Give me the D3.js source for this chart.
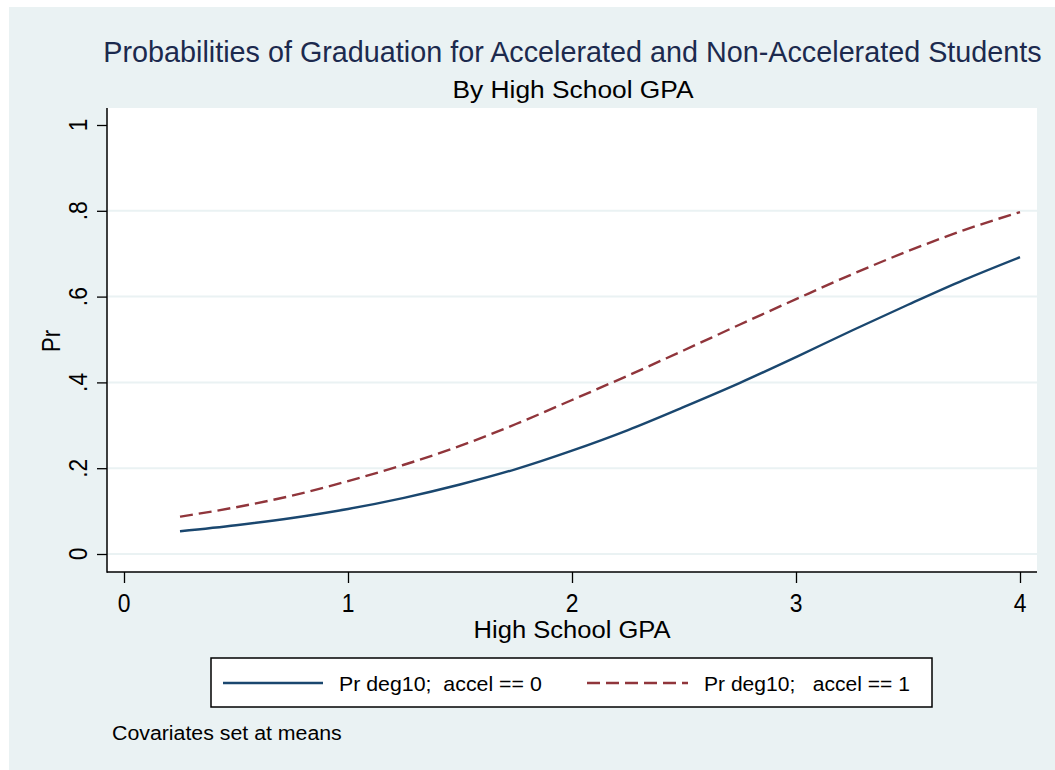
<!DOCTYPE html>
<html>
<head>
<meta charset="utf-8">
<script src="https://cdn.jsdelivr.net/npm/d3@7"></script>
<style>
  html, body { margin: 0; padding: 0; background: #ffffff; }
  svg { display: block; font-family: "Liberation Sans", Arial, sans-serif; }
</style>
</head>
<body>
<svg id="chart" width="1055" height="770"></svg>
<script>
// ---- data ----
const gpa = [0.25, 0.5, 0.75, 1, 1.25, 1.5, 1.75, 2, 2.25, 2.5, 2.75, 3, 3.25, 3.5, 3.75, 4];
const prAccel0 = [0.053, 0.067, 0.084, 0.105, 0.131, 0.162, 0.198, 0.241, 0.289, 0.343, 0.399, 0.459, 0.521, 0.581, 0.639, 0.692];
const prAccel1 = [0.087, 0.109, 0.136, 0.170, 0.208, 0.252, 0.303, 0.359, 0.416, 0.475, 0.535, 0.594, 0.652, 0.706, 0.755, 0.797];
const xTicks = [0, 1, 2, 3, 4];
const yTicks = [0, 0.2, 0.4, 0.6, 0.8, 1];
const yTickLabels = ["0", ".2", ".4", ".6", ".8", "1"];
const gridValues = [0, 0.2, 0.4, 0.6, 0.8];
const seriesNames = ["Pr deg10;  accel == 0", "Pr deg10;   accel == 1"];
const titleText = "Probabilities of Graduation for Accelerated and Non-Accelerated Students";
const subtitleText = "By High School GPA";
const xTitle = "High School GPA";
const yTitle = "Pr";
const noteText = "Covariates set at means";

const svg = d3.select("#chart");
const W = 1055, H = 770;

// outer background
svg.append("rect").attr("x", 9).attr("y", 7).attr("width", W - 9).attr("height", H - 7).attr("fill", "#eaf2f3");

// plot region
const plot = { left: 107, top: 108, right: 1037, bottom: 572 };
svg.append("rect").attr("x", plot.left).attr("y", plot.top)
  .attr("width", plot.right - plot.left).attr("height", plot.bottom - plot.top).attr("fill", "#ffffff");

const x = d3.scaleLinear().domain([0, 4]).range([124, 1020]);
const y = d3.scaleLinear().domain([0, 1]).range([554, 125]);

// gridlines
svg.append("g").selectAll("line").data(gridValues).join("line")
  .attr("x1", plot.left + 1).attr("x2", plot.right)
  .attr("y1", d => y(d)).attr("y2", d => y(d))
  .attr("stroke", "#eaf2f3").attr("stroke-width", 2);

// text compressed horizontally to a target width (Stata renders text narrower than Arial)
function fixedText(parent, opts) {
  const g = parent.append("g");
  const t = g.append("text")
    .attr("x", 0).attr("y", 0)
    .attr("font-size", opts.size).attr("fill", opts.fill || "#000")
    .attr("text-anchor", opts.anchor || "start")
    .attr("xml:space", "preserve").style("white-space", "pre")
    .text(opts.text);
  let s = opts.scale || 1;
  if (opts.width) {
    const w = t.node().getComputedTextLength();
    if (w > 0) s = opts.width / w;
  }
  const rot = opts.rotate ? ` rotate(${opts.rotate})` : "";
  g.attr("transform", `translate(${opts.x},${opts.y})${rot} scale(${s.toFixed(4)},1)`);
  return t;
}

// y axis (ticks by d3, labels drawn rotated)
const yAxis = d3.axisLeft(y).tickValues(yTicks).tickSize(10).tickFormat("");
const gy = svg.append("g").attr("transform", `translate(${plot.left},0)`).call(yAxis);
gy.select(".domain").remove();
gy.selectAll(".tick line").attr("stroke", "#000").attr("stroke-width", 1.3);
gy.selectAll(".tick text").remove();
yTicks.forEach((v, i) => {
  fixedText(svg, { x: 87, y: y(v), size: 26, anchor: "middle", text: yTickLabels[i], rotate: -90, scale: 0.88 });
});

// x axis
const xAxis = d3.axisBottom(x).tickValues(xTicks).tickSize(11).tickFormat("");
const gx = svg.append("g").attr("transform", `translate(0,${plot.bottom})`).call(xAxis);
gx.select(".domain").remove();
gx.selectAll(".tick line").attr("stroke", "#000").attr("stroke-width", 1.3);
gx.selectAll(".tick text").remove();
xTicks.forEach(v => {
  fixedText(svg, { x: x(v), y: 612, size: 26, anchor: "middle", text: d3.format("d")(v), scale: 0.88 });
});

// axis lines
svg.append("line").attr("x1", plot.left).attr("x2", plot.left).attr("y1", plot.top).attr("y2", plot.bottom + 0.7)
  .attr("stroke", "#000").attr("stroke-width", 1.5);
svg.append("line").attr("x1", plot.left).attr("x2", plot.right).attr("y1", plot.bottom).attr("y2", plot.bottom)
  .attr("stroke", "#000").attr("stroke-width", 1.5);

// lines
const line = d3.line().x(d => x(d[0])).y(d => y(d[1])).curve(d3.curveMonotoneX);
const colors = ["#1a476f", "#90353b"];
const dashes = [null, "13,6"];
[prAccel0, prAccel1].forEach((vals, i) => {
  svg.append("path").datum(gpa.map((g, j) => [g, vals[j]]))
    .attr("d", line).attr("fill", "none")
    .attr("stroke", colors[i]).attr("stroke-width", 2.4)
    .attr("stroke-dasharray", dashes[i]);
});

// titles
fixedText(svg, { x: 572.5, y: 62, size: 30, fill: "#1c2a4e", anchor: "middle", text: titleText, width: 939 });
fixedText(svg, { x: 573, y: 98, size: 24, anchor: "middle", text: subtitleText, width: 241 });
fixedText(svg, { x: 572, y: 638, size: 24, anchor: "middle", text: xTitle, width: 197 });
fixedText(svg, { x: 60, y: 341, size: 25, anchor: "middle", text: yTitle, width: 22, rotate: -90 });

// legend
const lg = svg.append("g");
lg.append("rect").attr("x", 211).attr("y", 658).attr("width", 721).attr("height", 49)
  .attr("fill", "#fff").attr("stroke", "#000").attr("stroke-width", 1.5);
const legendItems = [
  { x1: 223, x2: 323, tx: 339, w: 203 },
  { x1: 587, x2: 688, tx: 704, w: 206 }
];
legendItems.forEach((it, i) => {
  lg.append("line").attr("x1", it.x1).attr("x2", it.x2).attr("y1", 683).attr("y2", 683)
    .attr("stroke", colors[i]).attr("stroke-width", 2.4).attr("stroke-dasharray", dashes[i]);
  fixedText(lg, { x: it.tx, y: 691, size: 21, text: seriesNames[i], width: it.w });
});

// note
fixedText(svg, { x: 112, y: 740, size: 20, text: noteText, width: 230 });
</script>
</body>
</html>
